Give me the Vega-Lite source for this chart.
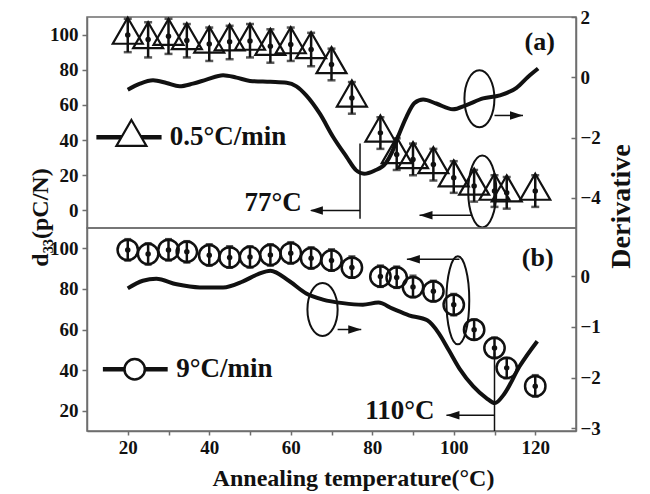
{
 "$schema": "https://vega.github.io/schema/vega-lite/v6.json",
 "padding": {"left": 27, "top": 7, "right": 5, "bottom": 5},
 "bounds": "flush",
 "spacing": 0,
 "config": {
  "font": "Liberation Serif",
  "view": {"stroke": "#6e6e6e", "strokeWidth": 1.5},
  "axis": {"labelFont": "Liberation Serif", "labelFontSize": 19, "labelFontWeight": "bold", "labelColor": "#111111", "titleFont": "Liberation Serif", "titleFontWeight": "bold", "titleColor": "#111111", "domainColor": "#6e6e6e", "tickColor": "#6e6e6e", "domainWidth": 1.5, "tickWidth": 1.5, "grid": false, "labelOverlap": false},
  "text": {"font": "Liberation Serif", "fontWeight": "bold", "color": "#111111"}
 },
 "datasets": {
  "tri": [{"x":20,"y":99.7},{"x":25,"y":97.2},{"x":30,"y":99.1},{"x":34.5,"y":96.6},{"x":40,"y":94.7},{"x":45,"y":95.9},{"x":50,"y":96.3},{"x":55,"y":93.4},{"x":60,"y":94.3},{"x":65,"y":91.5},{"x":70,"y":83},{"x":75,"y":64},{"x":82,"y":44.1},{"x":86,"y":31.8},{"x":90,"y":29},{"x":95,"y":26.1},{"x":100,"y":18.6},{"x":105,"y":13.9},{"x":110,"y":11},{"x":113,"y":10.1},{"x":120,"y":11}],
  "triErr": [{"x":20,"lo":90,"hi":109},{"x":25,"lo":87,"hi":107},{"x":30,"lo":89,"hi":109},{"x":34.5,"lo":87,"hi":106},{"x":40,"lo":85,"hi":104},{"x":45,"lo":86,"hi":105},{"x":50,"lo":87,"hi":106},{"x":55,"lo":84,"hi":103},{"x":60,"lo":85,"hi":104},{"x":65,"lo":82,"hi":101},{"x":70,"lo":74,"hi":92},{"x":75,"lo":55,"hi":73},{"x":82,"lo":35,"hi":53},{"x":86,"lo":23,"hi":41},{"x":90,"lo":20,"hi":38},{"x":95,"lo":17,"hi":35},{"x":100,"lo":10,"hi":28},{"x":105,"lo":5,"hi":23},{"x":110,"lo":2,"hi":20},{"x":113,"lo":1,"hi":19},{"x":120,"lo":2,"hi":20}],
  "derivA": [{"x":20,"d":-0.41},{"x":23,"d":-0.21},{"x":26.2,"d":-0.1},{"x":29.5,"d":-0.19},{"x":32.7,"d":-0.3},{"x":36,"d":-0.21},{"x":39.3,"d":-0.08},{"x":43.4,"d":0.07},{"x":46.7,"d":-0.01},{"x":50,"d":-0.12},{"x":55,"d":-0.15},{"x":59,"d":-0.18},{"x":61.4,"d":-0.3},{"x":63.8,"d":-0.6},{"x":67.1,"d":-1.2},{"x":70.4,"d":-1.98},{"x":73.7,"d":-2.64},{"x":76,"d":-3.08},{"x":78,"d":-3.2},{"x":80.5,"d":-3.1},{"x":83.3,"d":-2.85},{"x":84.8,"d":-2.5},{"x":86.3,"d":-1.98},{"x":88.4,"d":-1.31},{"x":90.4,"d":-0.85},{"x":92.5,"d":-0.74},{"x":95.7,"d":-0.87},{"x":99.8,"d":-1.06},{"x":103.1,"d":-0.92},{"x":107.2,"d":-0.7},{"x":111.3,"d":-0.6},{"x":115.4,"d":-0.35},{"x":118.2,"d":0.01},{"x":120.7,"d":0.29}],
  "circ": [{"x":20,"y":99.2},{"x":25,"y":97.2},{"x":30,"y":99.2},{"x":34.5,"y":98.3},{"x":40,"y":96.6},{"x":45,"y":95.5},{"x":50,"y":95.7},{"x":55,"y":96.7},{"x":60,"y":97.6},{"x":65,"y":95.1},{"x":70,"y":94},{"x":75,"y":90.5},{"x":82,"y":86.1},{"x":86,"y":85.6},{"x":90,"y":80.9},{"x":95,"y":78.8},{"x":100,"y":72.2},{"x":105,"y":59.9},{"x":110,"y":50.9},{"x":113,"y":41.1},{"x":120,"y":32.1}],
  "circErr": [{"x":20,"lo":94,"hi":104.5},{"x":25,"lo":92,"hi":102.5},{"x":30,"lo":94,"hi":104.5},{"x":34.5,"lo":93,"hi":103.5},{"x":40,"lo":91.5,"hi":102},{"x":45,"lo":90.5,"hi":101},{"x":50,"lo":90.5,"hi":101},{"x":55,"lo":91.5,"hi":102},{"x":60,"lo":92.5,"hi":103},{"x":65,"lo":90,"hi":100.5},{"x":70,"lo":89,"hi":99.5},{"x":75,"lo":85.5,"hi":96},{"x":82,"lo":81,"hi":91.5},{"x":86,"lo":80.5,"hi":91},{"x":90,"lo":76,"hi":86.5},{"x":95,"lo":74,"hi":84},{"x":100,"lo":67,"hi":77.5},{"x":105,"lo":55,"hi":65},{"x":110,"lo":46,"hi":56},{"x":113,"lo":36,"hi":46},{"x":120,"lo":27,"hi":37.5}],
  "derivB": [{"x":20,"d":-0.24},{"x":23.7,"d":-0.09},{"x":27,"d":-0.05},{"x":32,"d":-0.16},{"x":37.7,"d":-0.22},{"x":43.4,"d":-0.22},{"x":48.3,"d":-0.1},{"x":52,"d":0.04},{"x":55,"d":0.11},{"x":59.7,"d":-0.1},{"x":63.8,"d":-0.34},{"x":67.9,"d":-0.46},{"x":72.8,"d":-0.53},{"x":77.7,"d":-0.56},{"x":81.5,"d":-0.52},{"x":85,"d":-0.64},{"x":89,"d":-0.77},{"x":93.5,"d":-0.87},{"x":96.3,"d":-1.12},{"x":98.8,"d":-1.46},{"x":101.4,"d":-1.82},{"x":104.8,"d":-2.17},{"x":108,"d":-2.4},{"x":110.1,"d":-2.5},{"x":112.3,"d":-2.33},{"x":116.2,"d":-1.77},{"x":120.5,"d":-1.28}],
  "segA": [{"x":77,"x2":77,"y":38,"y2":-4.7},{"x":77,"x2":65,"y":0,"y2":0},{"x":110,"x2":117,"y":54,"y2":54},{"x":104.3,"x2":91.6,"y":-2.8,"y2":-2.8}],
  "headA": [{"x":64.7,"y":0,"dir":"left"},{"x":117,"y":54,"dir":"right"},{"x":91.6,"y":-2.8,"dir":"left"}],
  "segB": [{"x":110,"x2":110,"y":48.6,"y2":10},{"x":110,"x2":98.2,"y":17.8,"y2":17.8},{"x":71.5,"x2":77.3,"y":60,"y2":60},{"x":101.4,"x2":88.5,"y":94.6,"y2":94.6}],
  "headB": [{"x":98.2,"y":17.8,"dir":"left"},{"x":77.3,"y":60,"dir":"right"},{"x":88.5,"y":94.6,"dir":"left"}]
 },
 "vconcat": [
  {
   "width": 489,
   "height": 211,
   "encoding": {"x": {"field": "x", "type": "quantitative", "scale": {"domain": [10, 130], "nice": false, "zero": false}, "axis": null}},
   "resolve": {"scale": {"y": "independent"}},
   "layer": [
    {"data": {"name": "derivA"}, "mark": {"type": "line", "interpolate": "monotone", "color": "#111111", "strokeWidth": 4},
     "encoding": {"y": {"field": "d", "type": "quantitative", "scale": {"domain": [-5, 2], "nice": false, "zero": false},
       "axis": {"orient": "right", "values": [-4, -2, 0, 2], "tickSize": -5, "labelPadding": 9, "title": "Derivative", "titleFontSize": 28, "titleAngle": 270, "titleX": 45, "titleY": 189, "titleBaseline": "middle", "titleAlign": "center"}}}},
    {"data": {"name": "tri"}, "mark": {"type": "point", "shape": "M0,-1.155L1,0.577L-1,0.577Z", "filled": false, "size": 900, "color": "#111111", "strokeWidth": 2.2, "opacity": 1},
     "encoding": {"y": {"field": "y", "type": "quantitative", "scale": {"domain": [-10, 110], "nice": false, "zero": false},
       "axis": {"orient": "left", "values": [0, 20, 40, 60, 80, 100], "tickSize": 5, "labelPadding": 4, "title": "d₃₃(pC/N)", "titleFontSize": 24, "titleAngle": 270, "titleX": -47, "titleY": 200, "titleBaseline": "middle", "titleAlign": "center"}}}},
    {"data": {"name": "triErr"}, "mark": {"type": "rule", "color": "#111111", "strokeWidth": 2.5},
     "encoding": {"y": {"field": "lo", "type": "quantitative", "scale": {"domain": [-10, 110], "nice": false, "zero": false}, "axis": null}, "y2": {"field": "hi"}}},
    {"data": {"name": "triErr"}, "transform": [{"fold": ["lo", "hi"], "as": ["end", "v"]}], "mark": {"type": "tick", "orient": "horizontal", "color": "#111111", "size": 8, "thickness": 2.5},
     "encoding": {"y": {"field": "v", "type": "quantitative", "scale": {"domain": [-10, 110], "nice": false, "zero": false}, "axis": null}}},
    {"data": {"name": "tri"}, "mark": {"type": "point", "filled": true, "size": 30, "color": "#111111", "opacity": 1},
     "encoding": {"y": {"field": "y", "type": "quantitative", "scale": {"domain": [-10, 110], "nice": false, "zero": false}, "axis": null}}},
    {"data": {"name": "segA"}, "mark": {"type": "rule", "color": "#111111", "strokeWidth": 1.5},
     "encoding": {"x2": {"field": "x2"}, "y": {"field": "y", "type": "quantitative", "scale": {"domain": [-10, 110], "nice": false, "zero": false}, "axis": null}, "y2": {"field": "y2"}}},
    {"data": {"name": "headA"}, "mark": {"type": "point", "filled": true, "size": 169, "color": "#111111", "opacity": 1},
     "encoding": {"y": {"field": "y", "type": "quantitative", "scale": {"domain": [-10, 110], "nice": false, "zero": false}, "axis": null},
      "shape": {"field": "dir", "type": "nominal", "scale": {"domain": ["left", "right"], "range": ["M0,0L2,-0.65L2,0.65Z", "M0,0L-2,-0.65L-2,0.65Z"]}, "legend": null}}},
    {"data": {"values": [{"x": 106.3, "y": 63.5}]}, "mark": {"type": "point", "shape": "M0,-1A0.526,1,0,1,1,0,1A0.526,1,0,1,1,0,-1Z", "filled": false, "size": 3249, "color": "#111111", "strokeWidth": 2, "opacity": 1},
     "encoding": {"y": {"field": "y", "type": "quantitative", "scale": {"domain": [-10, 110], "nice": false, "zero": false}, "axis": null}}},
    {"data": {"values": [{"x": 107, "y": 10.8}]}, "mark": {"type": "point", "shape": "M0,-1A0.39,1,0,1,1,0,1A0.39,1,0,1,1,0,-1Z", "filled": false, "size": 5184, "color": "#111111", "strokeWidth": 2, "opacity": 1},
     "encoding": {"y": {"field": "y", "type": "quantitative", "scale": {"domain": [-10, 110], "nice": false, "zero": false}, "axis": null}}},
    {"data": {"values": [{"x": 12.3, "x2": 28.3, "y": 41.6}]}, "mark": {"type": "rule", "color": "#111111", "strokeWidth": 4.5},
     "encoding": {"x2": {"field": "x2"}, "y": {"field": "y", "type": "quantitative", "scale": {"domain": [-10, 110], "nice": false, "zero": false}, "axis": null}}},
    {"data": {"values": [{"x": 20.9, "y": 41.6}]}, "mark": {"type": "point", "shape": "M0,-1.155L1,0.577L-1,0.577Z", "filled": true, "fill": "white", "stroke": "#111111", "size": 900, "strokeWidth": 2.2, "opacity": 1},
     "encoding": {"y": {"field": "y", "type": "quantitative", "scale": {"domain": [-10, 110], "nice": false, "zero": false}, "axis": null}}},
    {"data": {"values": [{"x": 30.3, "y": 41.6, "label": "0.5°C/min"}]}, "mark": {"type": "text", "align": "left", "baseline": "middle", "fontSize": 27},
     "encoding": {"y": {"field": "y", "type": "quantitative", "scale": {"domain": [-10, 110], "nice": false, "zero": false}, "axis": null}, "text": {"field": "label"}}},
    {"data": {"values": [{"x": 121.1, "y": 96, "label": "(a)"}]}, "mark": {"type": "text", "align": "center", "baseline": "middle", "fontSize": 26},
     "encoding": {"y": {"field": "y", "type": "quantitative", "scale": {"domain": [-10, 110], "nice": false, "zero": false}, "axis": null}, "text": {"field": "label"}}},
    {"data": {"values": [{"x": 62.7, "y": 4, "label": "77°C"}]}, "mark": {"type": "text", "align": "right", "baseline": "middle", "fontSize": 27},
     "encoding": {"y": {"field": "y", "type": "quantitative", "scale": {"domain": [-10, 110], "nice": false, "zero": false}, "axis": null}, "text": {"field": "label"}}}
   ]
  },
  {
   "width": 489,
   "height": 203,
   "encoding": {"x": {"field": "x", "type": "quantitative", "scale": {"domain": [10, 130], "nice": false, "zero": false},
     "axis": {"values": [20, 30, 40, 50, 60, 70, 80, 90, 100, 110, 120], "labelExpr": "datum.value % 20 === 0 ? datum.label : ''", "tickSize": 4, "labelPadding": 3, "title": "Annealing temperature(°C)", "titleFontSize": 24, "titlePadding": 9, "titleX": 266}}},
   "resolve": {"scale": {"y": "independent"}},
   "layer": [
    {"data": {"name": "derivB"}, "mark": {"type": "line", "interpolate": "monotone", "color": "#111111", "strokeWidth": 4},
     "encoding": {"y": {"field": "d", "type": "quantitative", "scale": {"domain": [-3.05, 0.95], "nice": false, "zero": false},
       "axis": {"orient": "right", "values": [-3, -2, -1, 0], "tickSize": -5, "labelPadding": 9, "title": null}}}},
    {"data": {"name": "circ"}, "mark": {"type": "point", "shape": "circle", "filled": false, "size": 415, "color": "#111111", "strokeWidth": 2.5, "opacity": 1},
     "encoding": {"y": {"field": "y", "type": "quantitative", "scale": {"domain": [10, 110], "nice": false, "zero": false},
       "axis": {"orient": "left", "values": [20, 40, 60, 80, 100], "tickSize": 5, "labelPadding": 4, "title": null}}}},
    {"data": {"name": "circErr"}, "mark": {"type": "rule", "color": "#111111", "strokeWidth": 2.5},
     "encoding": {"y": {"field": "lo", "type": "quantitative", "scale": {"domain": [10, 110], "nice": false, "zero": false}, "axis": null}, "y2": {"field": "hi"}}},
    {"data": {"name": "circErr"}, "transform": [{"fold": ["lo", "hi"], "as": ["end", "v"]}], "mark": {"type": "tick", "orient": "horizontal", "color": "#111111", "size": 7, "thickness": 2.5},
     "encoding": {"y": {"field": "v", "type": "quantitative", "scale": {"domain": [10, 110], "nice": false, "zero": false}, "axis": null}}},
    {"data": {"name": "circ"}, "mark": {"type": "point", "filled": true, "size": 30, "color": "#111111", "opacity": 1},
     "encoding": {"y": {"field": "y", "type": "quantitative", "scale": {"domain": [10, 110], "nice": false, "zero": false}, "axis": null}}},
    {"data": {"name": "segB"}, "mark": {"type": "rule", "color": "#111111", "strokeWidth": 1.5},
     "encoding": {"x2": {"field": "x2"}, "y": {"field": "y", "type": "quantitative", "scale": {"domain": [10, 110], "nice": false, "zero": false}, "axis": null}, "y2": {"field": "y2"}}},
    {"data": {"name": "headB"}, "mark": {"type": "point", "filled": true, "size": 169, "color": "#111111", "opacity": 1},
     "encoding": {"y": {"field": "y", "type": "quantitative", "scale": {"domain": [10, 110], "nice": false, "zero": false}, "axis": null},
      "shape": {"field": "dir", "type": "nominal", "scale": {"domain": ["left", "right"], "range": ["M0,0L2,-0.65L2,0.65Z", "M0,0L-2,-0.65L-2,0.65Z"]}, "legend": null}}},
    {"data": {"values": [{"x": 67.8, "y": 69.8}]}, "mark": {"type": "point", "shape": "M0,-1A0.57,1,0,1,1,0,1A0.57,1,0,1,1,0,-1Z", "filled": false, "size": 2809, "color": "#111111", "strokeWidth": 2, "opacity": 1},
     "encoding": {"y": {"field": "y", "type": "quantitative", "scale": {"domain": [10, 110], "nice": false, "zero": false}, "axis": null}}},
    {"data": {"values": [{"x": 101, "y": 74.4}]}, "mark": {"type": "point", "shape": "M0,-1A0.26,1,0,1,1,0,1A0.26,1,0,1,1,0,-1Z", "filled": false, "size": 7744, "color": "#111111", "strokeWidth": 2, "opacity": 1},
     "encoding": {"y": {"field": "y", "type": "quantitative", "scale": {"domain": [10, 110], "nice": false, "zero": false}, "axis": null}}},
    {"data": {"values": [{"x": 13.9, "x2": 29.8, "y": 40.4}]}, "mark": {"type": "rule", "color": "#111111", "strokeWidth": 4.5},
     "encoding": {"x2": {"field": "x2"}, "y": {"field": "y", "type": "quantitative", "scale": {"domain": [10, 110], "nice": false, "zero": false}, "axis": null}}},
    {"data": {"values": [{"x": 21.7, "y": 40.4}]}, "mark": {"type": "point", "shape": "circle", "filled": true, "fill": "white", "stroke": "#111111", "size": 415, "strokeWidth": 2.5, "opacity": 1},
     "encoding": {"y": {"field": "y", "type": "quantitative", "scale": {"domain": [10, 110], "nice": false, "zero": false}, "axis": null}}},
    {"data": {"values": [{"x": 31.9, "y": 40.4, "label": "9°C/min"}]}, "mark": {"type": "text", "align": "left", "baseline": "middle", "fontSize": 27},
     "encoding": {"y": {"field": "y", "type": "quantitative", "scale": {"domain": [10, 110], "nice": false, "zero": false}, "axis": null}, "text": {"field": "label"}}},
    {"data": {"values": [{"x": 120.6, "y": 95.1, "label": "(b)"}]}, "mark": {"type": "text", "align": "center", "baseline": "middle", "fontSize": 26},
     "encoding": {"y": {"field": "y", "type": "quantitative", "scale": {"domain": [10, 110], "nice": false, "zero": false}, "axis": null}, "text": {"field": "label"}}},
    {"data": {"values": [{"x": 95.3, "y": 20, "label": "110°C"}]}, "mark": {"type": "text", "align": "right", "baseline": "middle", "fontSize": 27},
     "encoding": {"y": {"field": "y", "type": "quantitative", "scale": {"domain": [10, 110], "nice": false, "zero": false}, "axis": null}, "text": {"field": "label"}}}
   ]
  }
 ]
}
